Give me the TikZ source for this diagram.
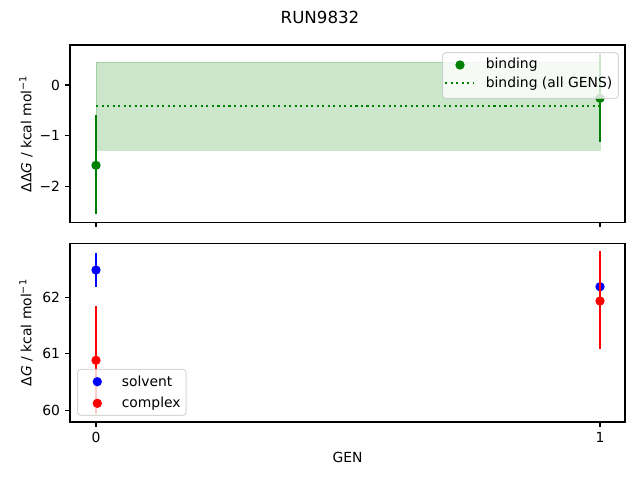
\documentclass[tikz,border=0pt]{standalone}
\usepackage{fontspec}
\setmainfont{DejaVu Sans}
\definecolor{mgreen}{RGB}{0,128,0}
\definecolor{mblue}{RGB}{0,0,255}
\definecolor{mred}{RGB}{255,0,0}
\definecolor{legedge}{gray}{0.8}
\begin{document}
\begin{tikzpicture}[x=0.75pt,y=-0.75pt,
  txt/.style={font=\fontsize{10.42}{12}\selectfont, inner sep=0pt},
  axisframe/.style={draw=black, line width=0.83pt},
  tickmark/.style={line width=0.83pt},
  ebar/.style={line width=1.56pt},
  dot/.style={circle, inner sep=0pt, minimum size=7pt},
  legbox/.style={draw=legedge, draw opacity=0.8, fill=white, fill opacity=0.8, rounded corners=2.2pt, line width=0.75pt},
  bandstyle/.style={fill=mgreen, fill opacity=0.2, draw=mgreen, draw opacity=0.2, line width=0.75pt},
  dotline/.style={draw=mgreen, line width=1.56pt, dash pattern=on 1.56pt off 2.58pt}
]
\useasboundingbox (0,0) rectangle (640,480);
% title
\node[font=\fontsize{12.5}{14}\selectfont, inner sep=0pt] (title) at (320,17) {RUN9832};

% ===== top axes =====
\coordinate (tA) at (70,45);
\coordinate (tB) at (625,222.5);
% band and mean line
\path[bandstyle] (96,62) rectangle (600,150.3);
\coordinate (m0) at (96,105.7);
\coordinate (m1) at (600,105.7);
\draw[dotline] (m0) -- (m1);
% error bars
\coordinate (b0t) at (96,115.3); \coordinate (b0b) at (96,214.3);
\coordinate (b1t) at (600,53.5); \coordinate (b1b) at (600,142.3);
\draw[ebar, mgreen] (b0t) -- (b0b);
\draw[ebar, mgreen] (b1t) -- (b1b);
\node[dot, fill=mgreen] (g0) at (96,165.3) {};
\node[dot, fill=mgreen] (g1) at (600,98.3) {};
% frame
\draw[axisframe] (tA) rectangle (tB);
% y ticks
\foreach \yy/\lab in {85/0, 135.8/−1, 186.6/−2}{
  \draw[tickmark] (70,\yy) -- (65.1,\yy);
  \node[txt, anchor=east] at (60.3,\yy) {\lab};
}
% x ticks (no labels)
\foreach \xx in {96,600}{
  \draw[tickmark] (\xx,222.5) -- (\xx,227.4);
}
\node[txt, rotate=90] (ylabT) at (26,133.75) {ΔΔ\textit{G} / kcal mol\textsuperscript{−1}};
% legend
\path[legbox] (442.7,52.7) rectangle (618.3,98.3);
\node[dot, fill=mgreen] (lg1) at (460,65) {};
\node[txt, anchor=west] (lt1) at (485.5,65) {binding};
\coordinate (ld0) at (445,83.3); \coordinate (ld1) at (473.5,83.3);
\draw[dotline] (ld0) -- (ld1);
\node[txt, anchor=west] (lt2) at (485.5,83.3) {binding (all GENS)};

% ===== bottom axes =====
\coordinate (bA) at (70,243.3);
\coordinate (bB) at (625,422);
% blue
\draw[ebar, mblue] (96,253.3) -- (96,286.7);
\draw[ebar, mblue] (600,269.7) -- (600,303.7);
\node[dot, fill=mblue] (s0) at (96,270) {};
\node[dot, fill=mblue] (s1) at (600,286.7) {};
% red
\draw[ebar, mred] (96,306) -- (96,414);
\draw[ebar, mred] (600,251) -- (600,349.3);
\node[dot, fill=mred] (c0) at (96,360.3) {};
\node[dot, fill=mred] (c1) at (600,301) {};
\draw[axisframe] (bA) rectangle (bB);
\foreach \yy/\lab in {297.2/62, 353.8/61, 410.5/60}{
  \draw[tickmark] (70,\yy) -- (65.1,\yy);
  \node[txt, anchor=east] at (60.3,\yy) {\lab};
}
\foreach \xx/\lab in {96/0,600/1}{
  \draw[tickmark] (\xx,422) -- (\xx,426.9);
  \node[txt, anchor=north] at (\xx,431.8) {\lab};
}
\node[txt] (xlab) at (347.5,457) {GEN};
\node[txt, rotate=90] (ylabB) at (26,332.6) {Δ\textit{G} / kcal mol\textsuperscript{−1}};
% legend
\path[legbox] (77.7,369.3) rectangle (186,415.3);
\node[dot, fill=mblue] (ls) at (97.3,381.7) {};
\node[txt, anchor=west] (lts) at (121.5,381.7) {solvent};
\node[dot, fill=mred] (lc) at (97.3,403.3) {};
\node[txt, anchor=west] (ltc) at (121.5,403.3) {complex};
\end{tikzpicture}
\end{document}
